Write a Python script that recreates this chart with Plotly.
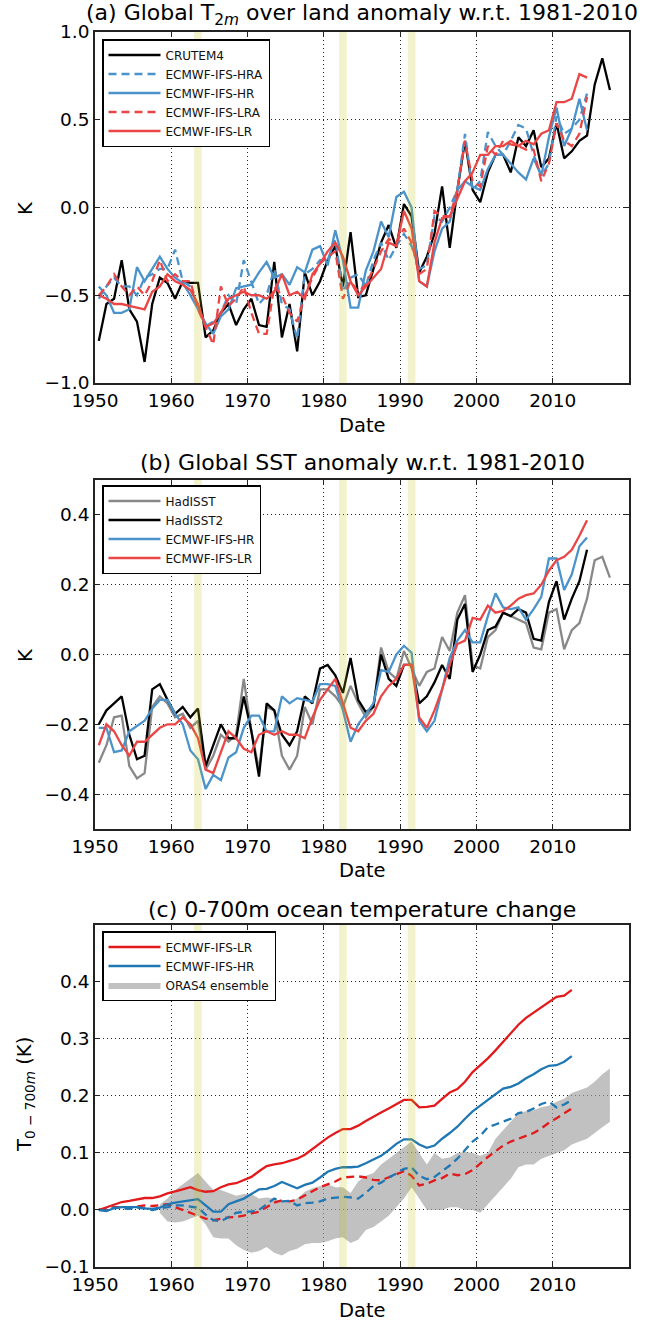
import plotly.graph_objects as go

# ---------------------------------------------------------------- data
years_obs = list(range(1950, 2018))    # CRUTEM4 / HadISST
years_mod = list(range(1950, 2015))    # coupled model runs
years_ohc = list(range(1950, 2013))    # ocean heat content runs
years_oras = list(range(1958, 2018))   # ORAS4 ensemble spread
eruption_spans = [(1963, 1964), (1982, 1983), (1991, 1992)]  # Agung, El Chichon, Pinatubo

# (a) land 2m temperature anomaly (K)
crutem4 = [-0.76, -0.55, -0.52, -0.30, -0.58, -0.65, -0.88, -0.55, -0.40, -0.43,
           -0.52, -0.42, -0.43, -0.43, -0.74, -0.70, -0.60, -0.55, -0.67, -0.58,
           -0.52, -0.67, -0.68, -0.31, -0.74, -0.55, -0.82, -0.37, -0.50, -0.42,
           -0.30, -0.22, -0.45, -0.14, -0.51, -0.50, -0.35, -0.20, -0.10, -0.23,
           0.02, -0.05, -0.37, -0.28, -0.15, 0.12, -0.23, 0.10, 0.38, 0.10,
           0.03, 0.20, 0.30, 0.30, 0.20, 0.40, 0.35, 0.44, 0.23, 0.28,
           0.48, 0.28, 0.32, 0.38, 0.41, 0.70, 0.85, 0.67]
land_hra = [-0.52, -0.45, -0.40, -0.45, -0.45, -0.50, -0.40, -0.38, -0.35, -0.35,
            -0.24, -0.42, -0.45, -0.56, -0.68, -0.65, -0.60, -0.50, -0.55, -0.30,
            -0.42, -0.55, -0.50, -0.35, -0.55, -0.58, -0.75, -0.38, -0.35, -0.30,
            -0.30, -0.18, -0.48, -0.40, -0.38, -0.45, -0.30, -0.20, -0.30, -0.22,
            -0.15, -0.22, -0.35, -0.33, -0.05, -0.08, 0.00, 0.10, 0.42, 0.10,
            0.15, 0.43, 0.35, 0.30, 0.38, 0.47, 0.45, 0.30, 0.18, 0.25,
            0.52, 0.42, 0.45, 0.50, 0.65]
land_hr = [-0.45, -0.50, -0.60, -0.60, -0.58, -0.34, -0.42, -0.35, -0.28, -0.35,
           -0.40, -0.43, -0.50, -0.58, -0.66, -0.72, -0.62, -0.58, -0.46, -0.45,
           -0.44, -0.37, -0.31, -0.40, -0.38, -0.44, -0.34, -0.37, -0.24, -0.22,
           -0.33, -0.13, -0.30, -0.57, -0.57, -0.36, -0.25, -0.08, -0.17, 0.06,
           0.09, 0.00, -0.42, -0.45, -0.25, -0.12, -0.08, 0.10, 0.15, 0.12,
           0.10, 0.22, 0.30, 0.30, 0.25, 0.20, 0.16, 0.28, 0.18, 0.40,
           0.57, 0.35, 0.45, 0.62, 0.44]
land_lra = [-0.50, -0.45, -0.38, -0.45, -0.50, -0.45, -0.50, -0.42, -0.30, -0.42,
            -0.38, -0.42, -0.42, -0.58, -0.68, -0.78, -0.45, -0.56, -0.52, -0.45,
            -0.60, -0.72, -0.72, -0.45, -0.50, -0.60, -0.65, -0.50, -0.40, -0.32,
            -0.28, -0.25, -0.52, -0.42, -0.48, -0.44, -0.35, -0.25, -0.18, -0.20,
            -0.12, -0.20, -0.38, -0.35, -0.02, -0.05, -0.05, 0.10, 0.38, 0.15,
            0.12, 0.35, 0.30, 0.38, 0.36, 0.35, 0.33, 0.33, 0.15, 0.25,
            0.48, 0.38, 0.35, 0.42, 0.63]
land_lr = [-0.50, -0.52, -0.55, -0.55, -0.56, -0.57, -0.58, -0.48, -0.45, -0.38,
           -0.42, -0.44, -0.47, -0.55, -0.68, -0.66, -0.60, -0.52, -0.50, -0.48,
           -0.50, -0.50, -0.52, -0.48, -0.38, -0.50, -0.48, -0.52, -0.38, -0.32,
           -0.25, -0.20, -0.28, -0.42, -0.50, -0.45, -0.40, -0.35, -0.20, -0.22,
           -0.02, -0.12, -0.42, -0.45, -0.20, -0.06, -0.05, 0.05, 0.15, 0.20,
           0.30, 0.30, 0.35, 0.35, 0.38, 0.35, 0.38, 0.36, 0.42, 0.44,
           0.60, 0.60, 0.62, 0.76, 0.74]

# (b) sea surface temperature anomaly (K)
hadisst = [-0.31, -0.26, -0.18, -0.175, -0.32, -0.355, -0.34, -0.15, -0.12, -0.14,
           -0.18, -0.17, -0.21, -0.19, -0.33, -0.29, -0.23, -0.25, -0.23, -0.07,
           -0.22, -0.33, -0.15, -0.16, -0.29, -0.33, -0.29, -0.15, -0.20, -0.10,
           -0.10, -0.12, -0.15, -0.09, -0.14, -0.18, -0.15, 0.02, -0.05, -0.07,
           0.01, -0.04, -0.09, -0.05, -0.04, 0.05, 0.01, 0.12, 0.17, -0.03,
           -0.04, 0.05, 0.07, 0.12, 0.11, 0.10, 0.09, 0.02, 0.015, 0.12,
           0.13, 0.015, 0.07, 0.09, 0.16, 0.27, 0.28, 0.22]
hadisst2 = [-0.20, -0.16, -0.14, -0.12, -0.23, -0.30, -0.29, -0.10, -0.085, -0.13,
            -0.17, -0.15, -0.18, -0.155, -0.32, -0.26, -0.20, -0.24, -0.24, -0.12,
            -0.22, -0.35, -0.14, -0.16, -0.23, -0.26, -0.22, -0.12, -0.14, -0.04,
            -0.03, -0.06, -0.11, -0.01, -0.13, -0.165, -0.15, 0.00, -0.07, -0.09,
            -0.03, -0.03, -0.14, -0.12, -0.08, -0.03, -0.07, 0.10, 0.145, -0.05,
            0.00, 0.07, 0.08, 0.12, 0.11, 0.13, 0.12, 0.045, 0.04, 0.15,
            0.21, 0.10, 0.16, 0.21, 0.30]
sst_hr = [-0.21, -0.21, -0.28, -0.275, -0.22, -0.205, -0.19, -0.155, -0.13, -0.13,
          -0.17, -0.20, -0.275, -0.30, -0.385, -0.345, -0.36, -0.295, -0.28, -0.21,
          -0.175, -0.175, -0.22, -0.22, -0.12, -0.14, -0.125, -0.13, -0.135, -0.085,
          -0.085, -0.09, -0.16, -0.25, -0.20, -0.17, -0.14, -0.045, -0.05, 0.00,
          0.025, 0.005, -0.19, -0.22, -0.19, -0.10, -0.01, 0.04, 0.07, 0.035,
          0.035, 0.11, 0.175, 0.135, 0.13, 0.135, 0.10, 0.13, 0.165, 0.275,
          0.275, 0.185, 0.23, 0.31, 0.335]
sst_lr = [-0.26, -0.20, -0.22, -0.26, -0.29, -0.25, -0.25, -0.23, -0.21, -0.20,
          -0.20, -0.18, -0.20, -0.24, -0.33, -0.34, -0.28, -0.22, -0.24, -0.27,
          -0.28, -0.23, -0.22, -0.23, -0.22, -0.23, -0.23, -0.24, -0.18, -0.13,
          -0.10, -0.07, -0.14, -0.21, -0.22, -0.19, -0.17, -0.12, -0.09, -0.07,
          -0.03, -0.03, -0.18, -0.21, -0.16, -0.10, -0.03, 0.03, 0.04, 0.105,
          0.10, 0.14, 0.12, 0.125, 0.14, 0.16, 0.17, 0.175, 0.20, 0.24,
          0.27, 0.28, 0.30, 0.34, 0.385]

# (c) 0-700m ocean temperature change (K)
ohc_lr = [0.000, 0.005, 0.010, 0.014, 0.016, 0.019, 0.021, 0.021, 0.024, 0.029,
          0.032, 0.036, 0.040, 0.035, 0.032, 0.033, 0.040, 0.045, 0.047, 0.053,
          0.058, 0.068, 0.077, 0.080, 0.082, 0.086, 0.090, 0.097, 0.107, 0.118,
          0.127, 0.135, 0.142, 0.142, 0.148, 0.156, 0.164, 0.171, 0.178, 0.185,
          0.193, 0.193, 0.180, 0.181, 0.183, 0.195, 0.206, 0.212, 0.225, 0.242,
          0.254, 0.266, 0.280, 0.295, 0.310, 0.325, 0.337, 0.346, 0.355, 0.365,
          0.374, 0.376, 0.386]
ohc_hr = [0.000, -0.002, 0.003, 0.005, 0.005, 0.005, 0.003, 0.002, 0.004, 0.010,
          0.013, 0.015, 0.018, 0.019, 0.008, -0.003, -0.003, 0.010, 0.015, 0.020,
          0.028, 0.036, 0.037, 0.042, 0.049, 0.044, 0.038, 0.044, 0.048, 0.057,
          0.067, 0.072, 0.075, 0.075, 0.076, 0.082, 0.089, 0.095, 0.105, 0.116,
          0.124, 0.124, 0.115, 0.109, 0.113, 0.125, 0.135, 0.146, 0.160, 0.173,
          0.183, 0.193, 0.203, 0.213, 0.216, 0.222, 0.231, 0.238, 0.247, 0.253,
          0.254, 0.260, 0.270]
ohc_lra = [0.000, 0.002, 0.005, 0.005, 0.004, 0.006, 0.008, 0.007, 0.009, 0.010,
           0.005, 0.000, -0.005, -0.010, -0.015, -0.018, -0.015, -0.013, -0.012, -0.010,
           -0.006, -0.003, 0.005, 0.013, 0.017, 0.015, 0.018, 0.026, 0.033, 0.040,
           0.045, 0.050, 0.057, 0.058, 0.059, 0.057, 0.053, 0.052, 0.057, 0.063,
           0.068, 0.060, 0.043, 0.046, 0.052, 0.056, 0.064, 0.061, 0.063, 0.070,
           0.082, 0.093, 0.103, 0.113, 0.120, 0.125, 0.130, 0.135, 0.143, 0.153,
           0.161, 0.170, 0.178]
ohc_hra = [0.000, 0.003, 0.004, 0.003, 0.002, 0.004, 0.003, 0.000, 0.002, 0.005,
           0.008, 0.008, 0.006, 0.004, -0.008, -0.018, -0.020, -0.012, -0.005, -0.003,
           -0.003, 0.000, 0.010, 0.020, 0.015, 0.016, 0.008, 0.012, 0.013, 0.015,
           0.020, 0.022, 0.023, 0.022, 0.020, 0.030, 0.042, 0.048, 0.057, 0.064,
           0.072, 0.075, 0.060, 0.054, 0.058, 0.068, 0.078, 0.090, 0.105, 0.120,
           0.130, 0.145, 0.150, 0.155, 0.160, 0.170, 0.172, 0.178, 0.186, 0.190,
           0.180, 0.185, 0.193]
oras_upper = [0.010, 0.020, 0.035, 0.045, 0.055, 0.065, 0.050, 0.035, 0.035, 0.030,
              0.025, 0.028, 0.028, 0.020, 0.022, 0.020, 0.015, 0.015, 0.020, 0.032,
              0.038, 0.042, 0.045, 0.040, 0.040, 0.030, 0.050, 0.060, 0.065, 0.080,
              0.090, 0.100, 0.110, 0.120, 0.100, 0.080, 0.100, 0.090, 0.092, 0.100,
              0.102, 0.100, 0.095, 0.100, 0.125, 0.140, 0.155, 0.170, 0.173, 0.175,
              0.180, 0.183, 0.190, 0.195, 0.205, 0.210, 0.215, 0.225, 0.238, 0.248]
oras_lower = [-0.005, -0.020, -0.022, -0.020, -0.015, -0.010, -0.025, -0.048, -0.050, -0.050,
              -0.062, -0.070, -0.075, -0.072, -0.065, -0.075, -0.080, -0.072, -0.068, -0.060,
              -0.058, -0.058, -0.055, -0.050, -0.048, -0.058, -0.052, -0.035, -0.030, -0.020,
              -0.010, 0.005, 0.020, 0.040, 0.020, 0.000, 0.000, 0.000, 0.005, 0.005,
              0.000, 0.000, -0.005, 0.010, 0.025, 0.040, 0.055, 0.075, 0.080, 0.080,
              0.090, 0.095, 0.100, 0.105, 0.115, 0.120, 0.125, 0.135, 0.145, 0.155]

# ---------------------------------------------------------------- style
FONT = "DejaVu Sans"
BLACK = "#000000"
GREY = "#888888"
BLUE_A = "#4b93cb"
RED_A = "#ea4646"
BLUE_C = "#1f77b4"
RED_C = "#e31a1c"
BAND = "rgba(191,191,0,0.2)"
BAND_FILL = "rgba(160,160,160,0.65)"
LW = 2.3
DASH = "8px,5px"

W, H = 652, 1327
X0, X1 = 95, 629
panels = {1: (32, 383), 2: (480, 829), 3: (925, 1267)}  # top/bottom in px


def mid(years):
    """Annual means are plotted at mid-year."""
    return [y + 0.5 for y in years]


def py(px):
    return 1 - px / H


fig = go.Figure()


def line(x, y, name, color, panel, dash="solid", legend=True, width=LW):
    fig.add_trace(go.Scatter(
        x=x, y=y, name=name, mode="lines",
        line=dict(color=color, width=width, dash=dash),
        xaxis="x" if panel == 1 else f"x{panel}",
        yaxis="y" if panel == 1 else f"y{panel}",
        legend="legend" if panel == 1 else f"legend{panel}",
        showlegend=legend,
    ))


# (a)
line(mid(years_obs), crutem4, "CRUTEM4", BLACK, 1)
line(mid(years_mod), land_hra, "ECMWF-IFS-HRA", BLUE_A, 1, dash=DASH)
line(mid(years_mod), land_hr, "ECMWF-IFS-HR", BLUE_A, 1)
line(mid(years_mod), land_lra, "ECMWF-IFS-LRA", RED_A, 1, dash=DASH)
line(mid(years_mod), land_lr, "ECMWF-IFS-LR", RED_A, 1)

# (b)
line(mid(years_obs), hadisst, "HadISST", GREY, 2)
line(mid(years_mod), hadisst2, "HadISST2", BLACK, 2)
line(mid(years_mod), sst_hr, "ECMWF-IFS-HR", BLUE_A, 2)
line(mid(years_mod), sst_lr, "ECMWF-IFS-LR", RED_A, 2)

# (c)
ox = mid(years_oras)
fig.add_trace(go.Scatter(
    x=ox + ox[::-1], y=oras_upper + oras_lower[::-1],
    fill="toself", fillcolor=BAND_FILL, line=dict(width=0, color=BAND_FILL),
    mode="lines", name="ORAS4 ensemble", xaxis="x3", yaxis="y3",
    legend="legend3", showlegend=True, hoverinfo="skip", legendrank=3,
))
line(mid(years_ohc), ohc_lra, "ECMWF-IFS-LRA", RED_C, 3, dash=DASH, legend=False)
line(mid(years_ohc), ohc_hra, "ECMWF-IFS-HRA", BLUE_C, 3, dash=DASH, legend=False)
line(mid(years_ohc), ohc_lr, "ECMWF-IFS-LR", RED_C, 3)
line(mid(years_ohc), ohc_hr, "ECMWF-IFS-HR", BLUE_C, 3)
fig.data[-2].legendrank = 1
fig.data[-1].legendrank = 2

axis_common = dict(
    showline=True, linecolor="#222222", linewidth=1.6, mirror="allticks",
    ticks="inside", ticklen=5, tickwidth=1.2, tickcolor="#222222",
    showgrid=True, gridcolor="rgba(0,0,0,0.85)", gridwidth=1, griddash="1px,3px",
    zeroline=False, automargin=False,
    tickfont=dict(family=FONT, size=18.5, color="black"),
)

yranges = {1: ([-1.0, 1.0], 0.5), 2: ([-0.5, 0.5], 0.2), 3: ([-0.1, 0.4999], 0.1)}
layout = dict(
    width=W, height=H, margin=dict(l=0, r=0, t=0, b=0, autoexpand=False),
    paper_bgcolor="white", plot_bgcolor="white",
    font=dict(family=FONT, color="black"),
)
for p, (top, bot) in panels.items():
    xs = "xaxis" if p == 1 else f"xaxis{p}"
    ys = "yaxis" if p == 1 else f"yaxis{p}"
    xa = "x" if p == 1 else f"x{p}"
    ya = "y" if p == 1 else f"y{p}"
    layout[xs] = dict(axis_common, domain=[X0 / W, X1 / W], anchor=ya,
                      range=[1950, 2020], dtick=10, tick0=1950)
    rng, dt = yranges[p]
    layout[ys] = dict(axis_common, domain=[py(bot), py(top)], anchor=xa,
                      range=rng, dtick=dt, tick0=0, tickformat=".1f")

legend_tops = {1: 39, 2: 485, 3: 931}
for p, top in legend_tops.items():
    key = "legend" if p == 1 else f"legend{p}"
    layout[key] = dict(
        x=102 / W, y=py(top), xanchor="left", yanchor="top",
        bgcolor="white", bordercolor="black", borderwidth=1.5,
        font=dict(family=FONT, size=12, color="#111111"),
        tracegroupgap=0, itemwidth=52,
    )

fig.update_layout(**layout)

# eruption years
shapes = []
for p in panels:
    xa = "x" if p == 1 else f"x{p}"
    ya = "y" if p == 1 else f"y{p}"
    for a, b in eruption_spans:
        shapes.append(dict(type="rect", xref=xa, yref=f"{ya} domain",
                           x0=a, x1=b, y0=0, y1=1, fillcolor=BAND,
                           line=dict(width=0), layer="above"))
fig.update_layout(shapes=shapes)

# titles and axis labels
cx = (X0 + X1) / 2 / W
annots = [
    dict(text="(a) Global T<sub>2<i>m</i></sub> over land anomaly w.r.t. 1981-2010",
         x=cx, y=py(15), size=22),
    dict(text="(b) Global SST anomaly w.r.t. 1981-2010", x=cx, y=py(463), size=22),
    dict(text="(c) 0-700m ocean temperature change", x=cx, y=py(909), size=22),
    dict(text="Date", x=cx, y=py(425), size=19.5),
    dict(text="Date", x=cx, y=py(870), size=19.5),
    dict(text="Date", x=cx, y=py(1310), size=19.5),
    dict(text="K", x=25 / W, y=py(208), size=19.5, angle=-90),
    dict(text="K", x=25 / W, y=py(655), size=19.5, angle=-90),
    dict(text="T<sub>0 − 700<i>m</i></sub> (K)", x=25 / W, y=py(1095), size=19.5, angle=-90),
]
fig.update_layout(annotations=[
    dict(text=a["text"], x=a["x"], y=a["y"], xref="paper", yref="paper",
         xanchor="center", yanchor="middle", showarrow=False,
         textangle=a.get("angle", 0),
         font=dict(family=FONT, size=a["size"], color="black"))
    for a in annots
])

fig.write_html("out.html")
